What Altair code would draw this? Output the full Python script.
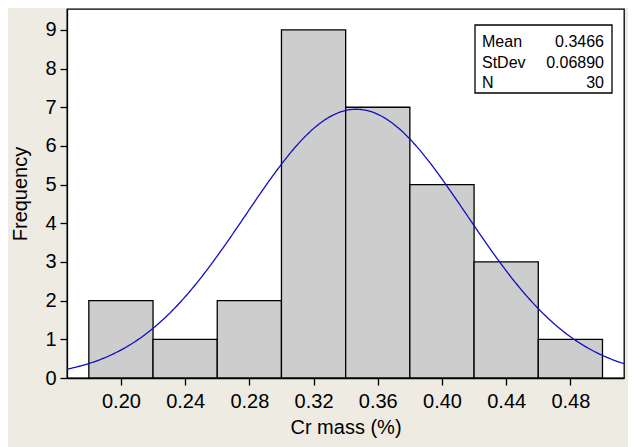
import altair as alt
import pandas as pd

# Histogram bins (Cr mass %) and frequencies
bin_start = [0.18, 0.22, 0.26, 0.30, 0.34, 0.38, 0.42, 0.46]
bin_end = [0.22, 0.26, 0.30, 0.34, 0.38, 0.42, 0.46, 0.50]
counts = [2, 1, 2, 9, 7, 5, 3, 1]

# Summary statistics shown in the box
stat_names = ["Mean", "StDev", "N"]
stat_values = ["0.3466", "0.06890", "30"]
mean_val = 0.3466
sd_val = 0.06890
n_val = 30
bin_width = 0.04

x_ticks = [0.20, 0.24, 0.28, 0.32, 0.36, 0.40, 0.44, 0.48]
y_ticks = [0, 1, 2, 3, 4, 5, 6, 7, 8, 9]

X_DOMAIN = [0.1664, 0.5134]
Y_DOMAIN = [0, 9.54]

W, H = 557, 369
FONT = "Liberation Sans"

hist_df = pd.DataFrame({"start": bin_start, "end": bin_end, "count": counts})

xscale = alt.Scale(domain=X_DOMAIN, nice=False, zero=False)
yscale = alt.Scale(domain=Y_DOMAIN, nice=False)

bars = alt.Chart(hist_df).mark_rect(
    fill="#cdcdcd", stroke="black", strokeWidth=1.3
).encode(
    x=alt.X("start:Q", scale=xscale,
            axis=alt.Axis(values=x_ticks, format=".2f", title="Cr mass (%)", grid=False)),
    x2="end:Q",
    y=alt.Y("count:Q", scale=yscale,
            axis=alt.Axis(values=y_ticks, format="d", title="Frequency", grid=False)),
    y2=alt.datum(0),
)

# Fitted normal curve from the stated mean / StDev / N
curve = alt.Chart(alt.sequence(0, 401, 1, as_="i")).transform_calculate(
    x=f"{X_DOMAIN[0]} + datum.i * ({X_DOMAIN[1]} - {X_DOMAIN[0]}) / 400",
).transform_calculate(
    y=f"{n_val} * {bin_width} * exp(-0.5 * pow((datum.x - {mean_val}) / {sd_val}, 2)) / ({sd_val} * sqrt(2 * PI))"
).mark_line(color="#1010c0", strokeWidth=1.3, clip=True).encode(
    x=alt.X("x:Q", scale=xscale),
    y=alt.Y("y:Q", scale=yscale),
)

# Stats box
box = alt.Chart(pd.DataFrame({"a": [0]})).mark_rect(
    fill="white", stroke="black", strokeWidth=1.3
).encode(
    x=alt.value(408), x2=alt.value(545), y=alt.value(16), y2=alt.value(84)
)

row_y = [33, 54, 74]
stat_layers = []
for nm, vl, ry in zip(stat_names, stat_values, row_y):
    d = pd.DataFrame({"name": [nm], "val": [vl]})
    stat_layers.append(
        alt.Chart(d).mark_text(
            align="left", baseline="middle", font=FONT, fontSize=16, color="black"
        ).encode(x=alt.value(415), y=alt.value(ry), text="name:N")
    )
    stat_layers.append(
        alt.Chart(d).mark_text(
            align="right", baseline="middle", font=FONT, fontSize=16, color="black"
        ).encode(x=alt.value(537), y=alt.value(ry), text="val:N")
    )

chart = alt.layer(bars, curve, box, *stat_layers).properties(
    width=W, height=H,
    background="#eeebe3",
    padding={"left": 59, "top": 1, "right": 4, "bottom": 69},
    autosize=alt.AutoSizeParams(type="none"),
).configure_view(
    fill="white", stroke="black", strokeWidth=1.3
).configure_axis(
    labelFont=FONT, titleFont=FONT, labelFontSize=20, titleFontSize=20,
    labelColor="black", titleColor="black", titleFontWeight="normal",
    domainColor="black", tickColor="black", tickSize=7, tickWidth=1.3,
    domainWidth=1.3,
).configure_axisX(
    labelPadding=6, titlePadding=6,
).configure_axisY(
    labelPadding=4, titlePadding=14,
)

chart.save("out.html", embed_options={"renderer": "svg", "actions": False})
